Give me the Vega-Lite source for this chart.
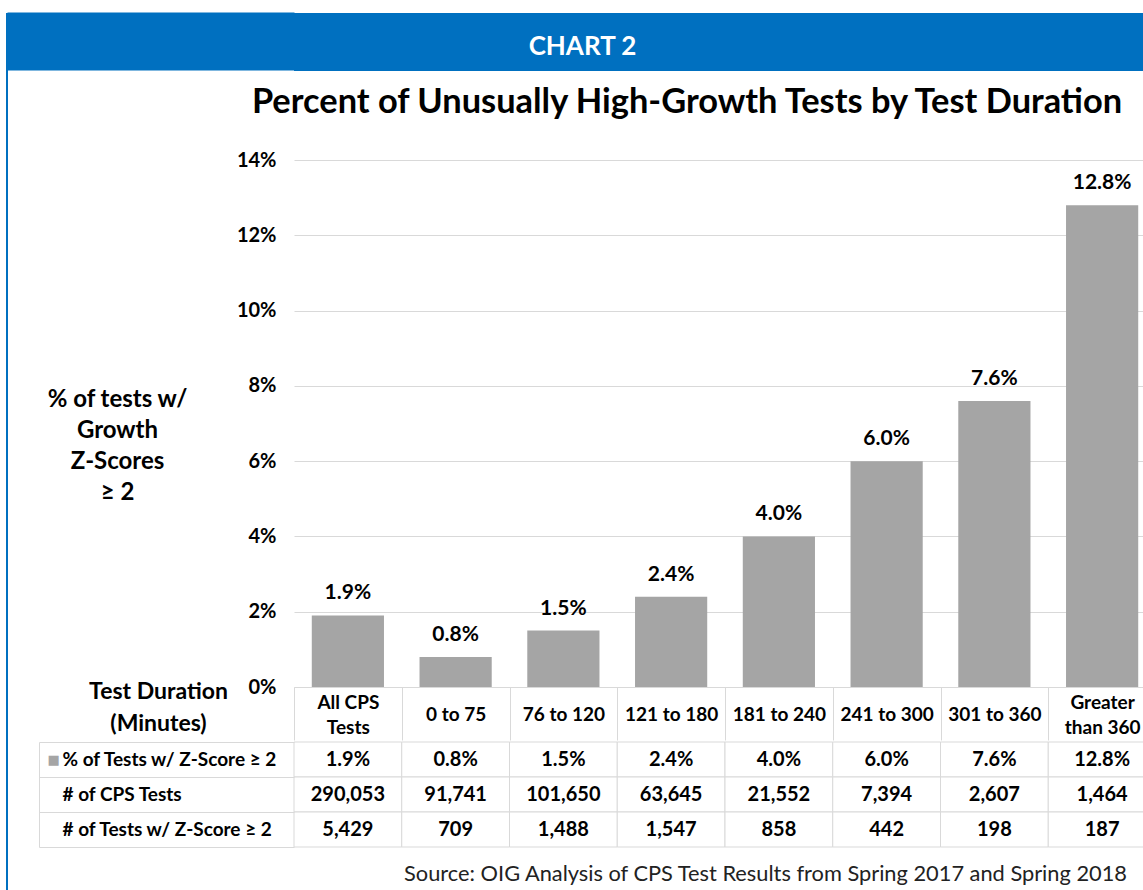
{
  "$schema": "https://vega.github.io/schema/vega-lite/v6.json",
  "background": "white",
  "padding": {"left": -22, "top": 12, "right": 0, "bottom": 0},
  "config": {"font": "Lato", "view": {"stroke": null}, "axis": {"labelFont": "Lato", "titleFont": "Lato", "minExtent": 0, "maxExtent": 600}, "title": {"font": "Lato"}},
  "datasets": {
    "tests": [
      {"cat": "All CPS Tests", "pct": 0.019, "n": 290053, "k": 5429},
      {"cat": "0 to 75", "pct": 0.008, "n": 91741, "k": 709},
      {"cat": "76 to 120", "pct": 0.015, "n": 101650, "k": 1488},
      {"cat": "121 to 180", "pct": 0.024, "n": 63645, "k": 1547},
      {"cat": "181 to 240", "pct": 0.040, "n": 21552, "k": 858},
      {"cat": "241 to 300", "pct": 0.060, "n": 7394, "k": 442},
      {"cat": "301 to 360", "pct": 0.076, "n": 2607, "k": 198},
      {"cat": "Greater than 360", "pct": 0.128, "n": 1464, "k": 187}
    ]
  },
  "spacing": -30,
  "hconcat": [
    {
      "width": 2,
      "height": 878,
      "data": {"values": [{"frame": "border"}]},
      "mark": {"type": "rect", "color": "#0070C0"},
      "encoding": {}
    },
    {
      "spacing": 0,
      "vconcat": [
        {
          "width": 862,
          "height": 71,
          "data": {"values": [{"band": "CHART 2"}]},
          "mark": {"type": "rect", "color": "#0070C0"},
          "encoding": {
            "y": {
              "field": "band", "type": "nominal",
              "scale": {"paddingInner": 0, "paddingOuter": 0.11207, "align": 0},
              "axis": {"title": null, "domain": false, "grid": false, "ticks": true, "tickSize": 287, "tickWidth": 58, "tickColor": "#0070C0", "tickCap": "butt",
                "labels": true, "labelAlign": "center", "labelBaseline": "middle", "labelPadding": -575, "labelOffset": 5,
                "labelColor": "white", "labelFontSize": 26, "labelFontWeight": "bold", "labelLimit": 0}
            }
          }
        },
        {
          "width": 862,
          "height": 527,
          "data": {"name": "tests"},
          "title": {"text": "Percent of Unusually High-Growth Tests by Test Duration", "anchor": "middle", "frame": "group", "dx": -38, "offset": 30, "fontSize": 34.4, "fontWeight": "bold", "color": "#000"},
          "encoding": {
            "x": {
              "field": "cat", "type": "nominal", "sort": null,
              "scale": {"paddingInner": 0, "paddingOuter": 0},
              "axis": {
                "orient": "bottom",
                "title": ["Test Duration", "(Minutes)"],
                "titleX": -136, "titleY": 11, "titleAlign": "center", "titleBaseline": "alphabetic", "titleAngle": 0,
                "titleFontSize": 23, "titleFontWeight": "bold", "titleColor": "#000", "titleLineHeight": 32,
                "labelExpr": "datum.value === 'All CPS Tests' ? ['All CPS', 'Tests'] : datum.value === 'Greater than 360' ? ['Greater', 'than 360'] : datum.value",
                "labelAngle": 0, "labelBaseline": "middle",
                "labelPadding": {"condition": {"test": "datum.value === 'All CPS Tests' || datum.value === 'Greater than 360'", "value": -38}, "value": -26},
                "labelLineHeight": 25,
                "labelFontSize": 19, "labelFontWeight": "bold", "labelColor": "#000", "labelLimit": 0, "labelOverlap": false,
                "tickBand": "extent", "tickSize": 53, "tickColor": "#D9D9D9", "tickWidth": 1,
                "domain": true, "domainColor": "#D9D9D9", "domainWidth": 1, "grid": false
              }
            },
            "y": {
              "field": "pct", "type": "quantitative",
              "scale": {"domain": [0, 0.14]},
              "axis": {
                "values": [0, 0.02, 0.04, 0.06, 0.08, 0.1, 0.12, 0.14], "format": ".0%",
                "title": ["% of tests w/", "Growth", "Z-Scores", "≥ 2"],
                "titleAngle": 0, "titleAlign": "center", "titleBaseline": "middle", "titleX": -177, "titleY": 239, "titleLineHeight": 31,
                "titleFontSize": 24, "titleFontWeight": "bold", "titleColor": "#000",
                "labelFontSize": 20, "labelFontWeight": "bold", "labelColor": "#000", "labelPadding": 18,
                "ticks": false, "domain": false, "grid": true, "gridColor": "#D9D9D9", "gridWidth": 1
              }
            }
          },
          "layer": [
            {"mark": {"type": "bar", "color": "#A5A5A5", "width": {"band": 0.67}}},
            {
              "mark": {"type": "text", "baseline": "alphabetic", "dy": -16, "fontSize": 21, "fontWeight": "bold", "color": "#000"},
              "encoding": {"text": {"field": "pct", "type": "quantitative", "format": ".1%"}}
            }
          ]
        },
        {
          "width": 862,
          "height": 105,
          "data": {"name": "tests"},
          "transform": [{"fold": ["pct", "n", "k"], "as": ["row", "value"]}],
          "title": {"text": "Source: OIG Analysis of CPS Test Results from Spring 2017 and Spring 2018", "orient": "bottom", "anchor": "end", "frame": "group", "dx": -29, "offset": 16, "fontSize": 21.8, "fontWeight": "normal", "color": "#222"},
          "encoding": {
            "x": {"field": "cat", "type": "nominal", "sort": null, "scale": {"paddingInner": 0, "paddingOuter": 0}, "axis": null}
          },
          "resolve": {"axis": {"y": "independent"}},
          "layer": [
            {
              "mark": {"type": "rect", "fill": "white", "stroke": "#D9D9D9", "strokeWidth": 1},
              "encoding": {
                "y": {
                  "field": "row", "type": "nominal", "sort": ["pct", "n", "k"],
                  "scale": {"paddingInner": 0, "paddingOuter": 0},
                  "axis": {
                    "orient": "left",
                    "title": null, "offset": 255, "tickSize": -255, "tickBand": "extent", "tickColor": "#D9D9D9", "tickWidth": 1,
                    "domain": true, "domainColor": "#D9D9D9", "domainWidth": 1, "grid": false,
                    "labelAlign": "left", "labelPadding": 232,
                    "labelBaseline": {"condition": {"test": "indexof(['pct', 'n', 'k'], datum.value) < 0", "value": "top"}, "value": "middle"},
                    "labelExpr": "datum.value === 'pct' ? '% of Tests w/ Z-Score ≥ 2' : datum.value === 'n' ? '# of CPS Tests' : datum.value === 'k' ? '# of Tests w/ Z-Score ≥ 2' : ''",
                    "labelFontSize": {"condition": {"test": "indexof(['pct', 'n', 'k'], datum.value) < 0", "value": 1}, "value": 19},
                    "labelFontWeight": "bold", "labelColor": "#000", "labelLimit": 0
                  }
                }
              }
            },
            {
              "mark": {"type": "text", "fontSize": 20, "fontWeight": "bold", "color": "#000"},
              "encoding": {
                "y": {"field": "row", "type": "nominal", "sort": ["pct", "n", "k"], "axis": null},
                "text": {
                  "condition": {"test": "datum.row === 'pct'", "field": "value", "type": "quantitative", "format": ".1%"},
                  "field": "value", "type": "quantitative", "format": ","
                }
              }
            },
            {
              "mark": {"type": "text", "text": ""},
              "encoding": {
                "y": {
                  "field": "row", "type": "nominal", "sort": ["pct", "n", "k"],
                  "axis": {
                    "orient": "left", "title": null, "offset": 255, "domain": false, "ticks": false, "grid": false,
                    "labelExpr": "datum.value === 'pct' ? '■' : ''",
                    "labelFont": "DejaVu Sans", "labelFontSize": 13, "labelColor": "#A5A5A5",
                    "labelAlign": "left", "labelBaseline": "middle", "labelPadding": -8, "labelLimit": 0
                  }
                }
              }
            }
          ]
        }
      ]
    }
  ]
}
